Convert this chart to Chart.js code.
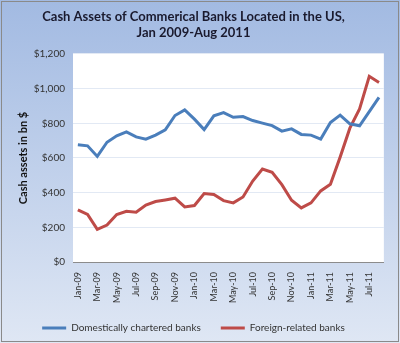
<!DOCTYPE html>
<html><head><meta charset="utf-8">
<script src="https://cdn.jsdelivr.net/npm/chart.js@4/dist/chart.umd.min.js"></script>
<style>html,body{margin:0;padding:0;background:#fff}#wrap{width:400px;height:343px}</style>
</head><body><div id="wrap"><canvas id="c" width="400" height="343"></canvas></div>
<script>
const months = ["Jan-09","Feb-09","Mar-09","Apr-09","May-09","Jun-09","Jul-09","Aug-09","Sep-09","Oct-09","Nov-09","Dec-09",
"Jan-10","Feb-10","Mar-10","Apr-10","May-10","Jun-10","Jul-10","Aug-10","Sep-10","Oct-10","Nov-10","Dec-10",
"Jan-11","Feb-11","Mar-11","Apr-11","May-11","Jun-11","Jul-11","Aug-11"];
const domestic = [676,670,609,691,728,751,722,709,732,762,845,877,824,764,843,862,835,839,816,801,787,755,768,736,732,709,805,847,797,786,868,950];
const foreign = [301,274,188,213,274,293,287,329,349,358,368,318,326,395,389,354,341,375,467,536,517,446,356,312,341,410,448,605,772,883,1071,1036];
const seriesNames = ["Domestically chartered banks","Foreign-related banks"];
const titleLines = ["Cash Assets of Commerical Banks Located in the US,","Jan 2009-Aug 2011"];
const yTitle = "Cash assets in bn $";
const FONT = "Lato, 'Open Sans', sans-serif";

const bgPlugin = {
  id: 'bg',
  beforeDraw(chart) {
    const {ctx, width, height, chartArea} = chart;
    ctx.save();
    const g = ctx.createLinearGradient(0, 0, 0, height);
    g.addColorStop(0, '#a2bae2');
    g.addColorStop(1, '#dfe7f4');
    ctx.fillStyle = g;
    ctx.fillRect(0, 0, width, height);
    ctx.strokeStyle = '#8a8a8a';
    ctx.lineWidth = 1;
    ctx.strokeRect(1.5, 1.5, width - 3, height - 3);
    ctx.fillStyle = '#ffffff';
    ctx.fillRect(chartArea.left, chartArea.top, chartArea.right - chartArea.left, chartArea.bottom - chartArea.top);
    ctx.restore();
  }
};

new Chart(document.getElementById('c'), {
  type: 'line',
  data: {
    labels: months,
    datasets: [
      {label: seriesNames[0], data: domestic, borderColor: '#4a7ebb', backgroundColor: '#4a7ebb', borderWidth: 3, pointRadius: 0, tension: 0, pointStyle: 'line'},
      {label: seriesNames[1], data: foreign, borderColor: '#be4b48', backgroundColor: '#be4b48', borderWidth: 3, pointRadius: 0, tension: 0, pointStyle: 'line'}
    ]
  },
  options: {
    responsive: false,
    animation: false,
    devicePixelRatio: 1,
    layout: {padding: {left: 0, right: 13, top: 0, bottom: 0}},
    plugins: {
      title: {display: true, text: titleLines, color: '#1a1a2e', font: {family: FONT, size: 13, weight: 'bold', lineHeight: 1.23}, padding: {top: 9, bottom: 13}},
      legend: {
        position: 'bottom',
        labels: {usePointStyle: true, pointStyleWidth: 24, boxHeight: 3, color: '#333333', font: {family: FONT, size: 10}, padding: 20}
      },
      tooltip: {enabled: false}
    },
    scales: {
      x: {
        offset: true,
        grid: {display: false, drawTicks: false},
        border: {display: true, color: '#8c8c8c', width: 1},
        ticks: {
          autoSkip: false, maxRotation: 90, minRotation: 90, padding: 10,
          color: '#333333', font: {family: FONT, size: 9},
          callback: function(v, i) { return i % 2 === 0 ? months[i] : ''; }
        },
        afterFit(s) { s.height = 41; }
      },
      y: {
        min: 0, max: 1200,
        grid: {color: '#e2e9f4', drawTicks: false},
        border: {display: false},
        ticks: {stepSize: 200, padding: 8, color: '#333333', font: {family: FONT, size: 10},
          callback: v => '$' + v.toLocaleString('en-US')},
        title: {display: true, text: yTitle, color: '#111111', font: {family: FONT, size: 11, weight: 'bold'}, padding: {top: 17, bottom: 0}},
        afterFit(s) { s.width = 73; }
      }
    }
  },
  plugins: [bgPlugin]
});
</script></body></html>
